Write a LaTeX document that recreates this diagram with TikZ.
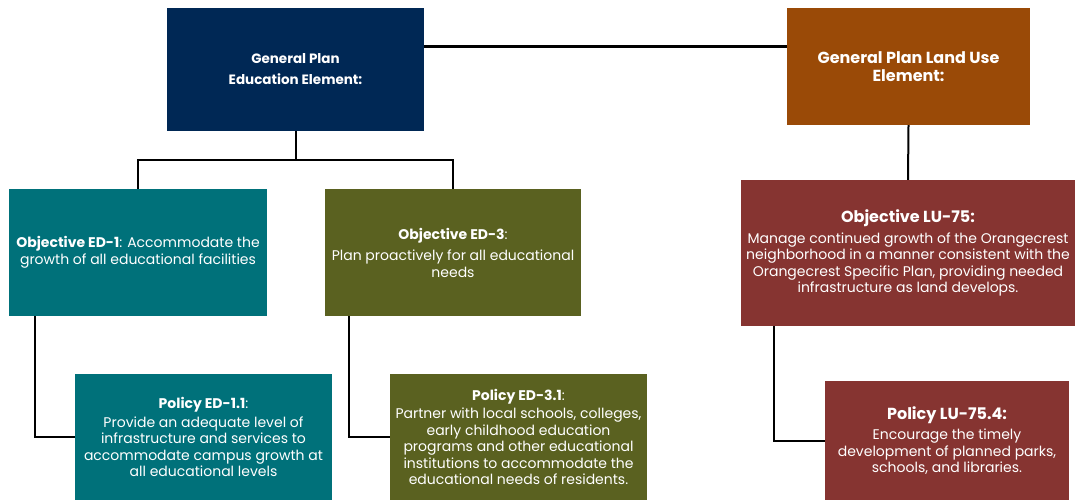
\documentclass[tikz,border=0pt]{standalone}
\usepackage{fontspec}
\setmainfont{Poppins}
\begin{document}
\begin{tikzpicture}[x=1pt, y=-1pt, font=\fontsize{14}{16.5}\selectfont]
    \definecolor{navy}{RGB}{0,40,85}
    \definecolor{rust}{RGB}{154,74,7}
    \definecolor{teal}{RGB}{0,113,122}
    \definecolor{olive}{RGB}{90,97,32}
    \definecolor{maroon}{RGB}{134,52,49}

    \tikzset{
        box/.style = {rectangle, text=white, align=center, inner sep=2pt},
        link/.style = {draw=black, line width=2pt},
        big/.style = {font=\fontsize{16}{18}\selectfont},
    }

    \useasboundingbox (0,0) rectangle (1075,500);

    % top level
    \node[box, fill=navy, font=\fontsize{13.5}{16}\selectfont, minimum width=257pt, minimum height=123pt] (edu) at (295.5,69.5)
        {\textbf{General Plan}\\[5pt]\textbf{Education Element:}};
    \node[box, big, fill=rust, minimum width=243pt, minimum height=117pt] (lu) at (908.5,66.5)
        {\textbf{General Plan Land Use}\\\textbf{Element:}};

    % objectives
    \node[box, fill=teal, minimum width=258pt, minimum height=127pt] (ed1) at (138,252.5)
        {\textbf{Objective ED-1}: Accommodate the\\growth of all educational facilities};
    \node[box, fill=olive, minimum width=256pt, minimum height=127pt] (ed3) at (453,252.5)
        {\textbf{Objective ED-3}:\\[5pt]Plan proactively for all educational\\needs};
    \node[box, fill=maroon, minimum width=334pt, minimum height=146pt] (lu75) at (908,253)
        {{\fontsize{16}{18}\selectfont\textbf{Objective LU-75:}}\\[4pt]
         Manage continued growth of the Orangecrest\\
         neighborhood in a manner consistent with the\\
         Orangecrest Specific Plan, providing needed\\
         infrastructure as land develops.};

    % policies
    \node[box, fill=teal, minimum width=257pt, minimum height=126pt] (pol1) at (203.5,437)
        {\textbf{Policy ED-1.1}:\\[2pt]Provide an adequate level of\\infrastructure and services to\\
         accommodate campus growth at\\all educational levels};
    \node[box, fill=olive, minimum width=257pt, minimum height=126pt] (pol3) at (518.5,437)
        {\textbf{Policy ED-3.1}:\\[2pt]Partner with local schools, colleges,\\early childhood education\\
         programs and other educational\\institutions to accommodate the\\educational needs of residents.};
    \node[box, fill=maroon, minimum width=244pt, minimum height=119pt] (pol75) at (947,440.5)
        {{\fontsize{16}{18}\selectfont\textbf{Policy LU-75.4:}}\\[4pt]Encourage the timely\\
         development of planned parks,\\schools, and libraries.};

    % connectors
    \draw[link, line width=3pt] ([yshift=23pt]edu.east) -- ([yshift=23pt]edu.east -| lu.west);
    \draw[link] (edu.south) -- ++(0,29) coordinate (fork);
    \draw[link] (ed1.north) |- (fork) -| (ed3.north);
    \draw[link] (lu.south) -- (lu75.north);

    \draw[link] ([xshift=26pt]ed1.south west) |- (pol1.west);
    \draw[link] ([xshift=24pt]ed3.south west) |- (pol3.west);
    \draw[link] ([xshift=33pt]lu75.south west) |- (pol75.west);

\end{tikzpicture}
\end{document}
